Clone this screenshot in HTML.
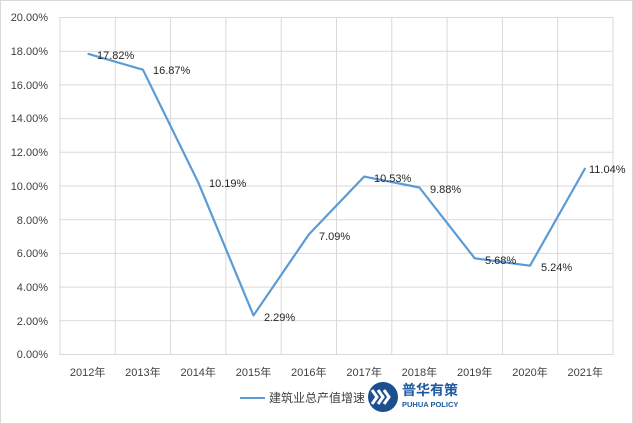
<!DOCTYPE html>
<html><head><meta charset="utf-8"><style>
body{margin:0;background:#fff}
svg{display:block;font-family:"Liberation Sans","Noto Sans CJK SC",sans-serif}
</style></head><body>
<svg width="633" height="424" viewBox="0 0 633 424">
<rect x="0.5" y="0.5" width="632" height="423" fill="#fff" stroke="#d9d9d9"/>
<g stroke="#d9d9d9" stroke-width="1">
<line x1="60" y1="17.5" x2="613" y2="17.5"/>
<line x1="60" y1="51.2" x2="613" y2="51.2"/>
<line x1="60" y1="84.9" x2="613" y2="84.9"/>
<line x1="60" y1="118.6" x2="613" y2="118.6"/>
<line x1="60" y1="152.3" x2="613" y2="152.3"/>
<line x1="60" y1="186" x2="613" y2="186"/>
<line x1="60" y1="219.7" x2="613" y2="219.7"/>
<line x1="60" y1="253.4" x2="613" y2="253.4"/>
<line x1="60" y1="287.1" x2="613" y2="287.1"/>
<line x1="60" y1="320.8" x2="613" y2="320.8"/>
<line x1="60" y1="354.5" x2="613" y2="354.5"/>
<line x1="60" y1="17" x2="60" y2="355"/>
<line x1="115.3" y1="17" x2="115.3" y2="355"/>
<line x1="170.6" y1="17" x2="170.6" y2="355"/>
<line x1="225.9" y1="17" x2="225.9" y2="355"/>
<line x1="281.2" y1="17" x2="281.2" y2="355"/>
<line x1="336.5" y1="17" x2="336.5" y2="355"/>
<line x1="391.8" y1="17" x2="391.8" y2="355"/>
<line x1="447.1" y1="17" x2="447.1" y2="355"/>
<line x1="502.4" y1="17" x2="502.4" y2="355"/>
<line x1="557.7" y1="17" x2="557.7" y2="355"/>
<line x1="613" y1="17" x2="613" y2="355"/>
</g>
<g font-size="11" fill="#404040" text-anchor="end">
<text x="48" y="21">20.00%</text><text x="48" y="55">18.00%</text><text x="48" y="89">16.00%</text>
<text x="48" y="122">14.00%</text><text x="48" y="156">12.00%</text><text x="48" y="190">10.00%</text>
<text x="48" y="224">8.00%</text><text x="48" y="257">6.00%</text><text x="48" y="291">4.00%</text>
<text x="48" y="325">2.00%</text><text x="48" y="358">0.00%</text>
</g>
<g font-size="11" fill="#404040" text-anchor="middle">
<text x="87.6" y="376">2012年</text><text x="142.9" y="376">2013年</text><text x="198.2" y="376">2014年</text>
<text x="253.5" y="376">2015年</text><text x="308.8" y="376">2016年</text><text x="364.1" y="376">2017年</text>
<text x="419.4" y="376">2018年</text><text x="474.7" y="376">2019年</text><text x="530" y="376">2020年</text>
<text x="585.3" y="376">2021年</text>
</g>
<polyline fill="none" stroke="#5b9bd5" stroke-width="2.2" stroke-linejoin="round" points="87.6,53.7 142.9,69.7 198.2,182.3 253.5,315.4 308.8,234.5 364.1,176.6 419.4,187.5 474.7,258.3 530,265.7 585.3,168"/>
<g font-size="11" fill="#262626">
<text x="97" y="59">17.82%</text><text x="153" y="74">16.87%</text><text x="209" y="187">10.19%</text>
<text x="264" y="321">2.29%</text><text x="319" y="240">7.09%</text><text x="374" y="182">10.53%</text>
<text x="430" y="193">9.88%</text><text x="485" y="264">5.68%</text><text x="541" y="271">5.24%</text>
<text x="589" y="173">11.04%</text>
</g>
<line x1="240" y1="398" x2="265" y2="398" stroke="#5b9bd5" stroke-width="2"/>
<text x="269" y="402" font-size="12" fill="#404040">建筑业总产值增速</text>
<circle cx="383" cy="397" r="15" fill="#1d4f8f"/>
<g fill="none" stroke="#fff" stroke-width="3">
<polyline points="372,390 377,397 372,404"/>
<polyline points="378,390 383,397 378,404"/>
<polyline points="384,390 389,397 384,404"/>
</g>
<text x="402" y="395" font-size="14" font-weight="bold" fill="#1d5aa0">普华有策</text>
<text x="402" y="407" font-size="7.5" font-weight="bold" fill="#1d5aa0">PUHUA POLICY</text>
</svg>
</body></html>
